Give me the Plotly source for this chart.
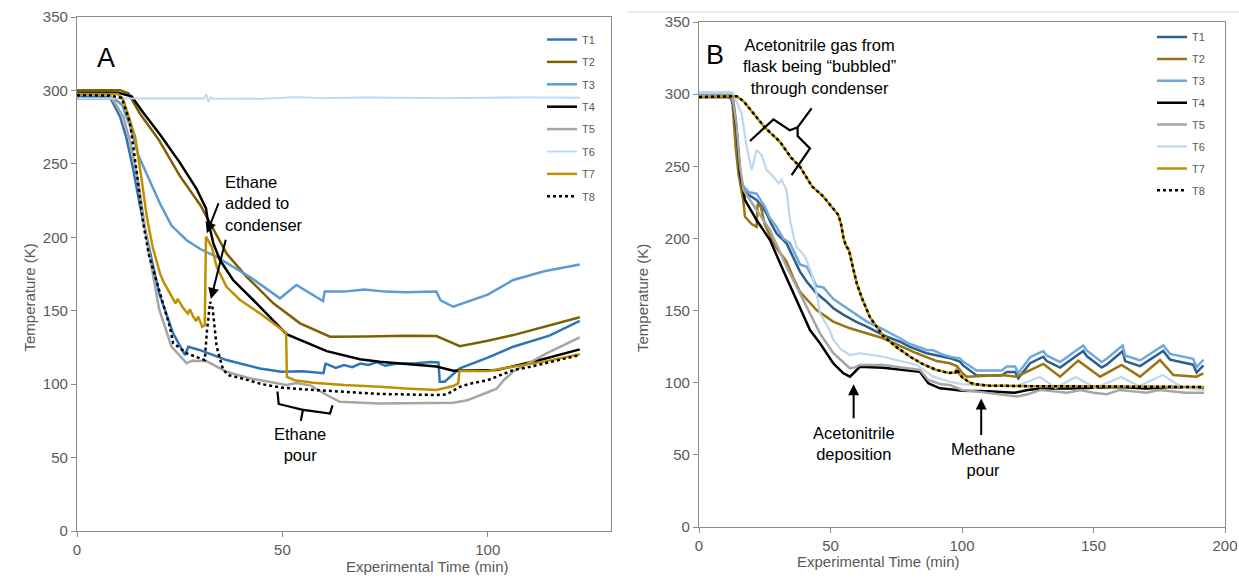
import plotly.graph_objects as go

# ---------------- Panel A data (time in min, temperature in K) ----------------
A_T1_x = [0, 8, 10.5, 12, 13.7, 15.3, 17.5, 20, 23.4, 26.3, 27.1, 29.8, 36.4, 44.5, 49.8, 55, 60, 60.5, 61, 63, 65, 67, 69, 71, 73, 75, 78, 82, 86, 88, 88.3, 89.5, 93.2, 100, 106.2, 115, 122.4]
A_T1_y = [296, 295.5, 282, 268, 246, 222, 193.5, 162, 134.6, 119.8, 125.5, 123.3, 116.4, 110.7, 108.4, 108.7, 107.5, 113.9, 113.5, 111, 113, 111.5, 114, 113, 115, 112.5, 114, 114, 115, 114.8, 101.6, 101.6, 110.7, 118, 125.5, 133, 143]

A_T2_x = [0, 10.5, 12.5, 15.3, 20, 25, 30, 32, 35, 36.4, 41.3, 47.8, 54.3, 61.6, 70, 80, 87.5, 93.2, 100, 106.2, 122.4]
A_T2_y = [300.2, 300.2, 298, 284.3, 266, 242, 222, 212, 196, 189, 173.1, 155, 141.4, 132.3, 132.5, 133, 132.7, 125.9, 129.5, 133.4, 145.5]

A_T3_x = [0, 9, 11, 13, 14.9, 17, 20.2, 23, 26.7, 30, 34, 42.1, 49.4, 53.4, 59.9, 60.3, 65, 70, 75, 80, 87.5, 88.5, 91.6, 100, 106.2, 114, 122.4]
A_T3_y = [294.5, 294.5, 290, 275, 256, 243, 223, 208, 198, 192, 186.7, 173, 158.4, 167.5, 156.6, 163, 163, 164.5, 163, 162.5, 163, 157, 152.7, 161, 170.9, 177, 181.5]

A_T4_x = [0, 10, 13.3, 16.1, 20.2, 25, 29.1, 31.4, 31.7, 33.2, 34.8, 38, 42.9, 51, 60.8, 68.9, 73.7, 80, 87.5, 91.6, 102.2, 112.7, 122.4]
A_T4_y = [298.4, 298.4, 296, 285, 270, 251, 233, 219.7, 214, 195.8, 184.5, 170.9, 157.3, 134, 122.5, 117, 115.3, 114, 112, 109.1, 109.6, 116.4, 123.7]

A_T5_x = [0, 8, 11.3, 13, 15, 17, 20, 23, 26.7, 28, 31.5, 36.4, 42, 49.4, 51, 53.4, 57, 60.8, 64, 73.7, 91.6, 95, 98, 100, 102.2, 104, 106.2, 114.3, 122.4]
A_T5_y = [297.5, 297, 282, 264, 236, 198, 151, 125.5, 114.2, 116, 115.7, 108.4, 104, 100, 99.5, 100.8, 99, 92.6, 88, 86.8, 87.3, 89, 92.6, 94.5, 97, 103, 108.6, 121, 131.8]

A_T6_x = [0, 20, 31, 31.5, 32, 32.5, 33, 45, 53, 60, 70, 90, 110, 122.4]
A_T6_y = [294.5, 294.6, 294.5, 297.5, 292, 295.5, 294.5, 294.3, 295.5, 294.8, 295.2, 294.8, 295.3, 295]

A_T7_x = [0, 10, 11.3, 14.2, 15.8, 17, 18.4, 20.2, 21, 22.6, 24, 24.5, 25.9, 27, 27.5, 28.3, 29, 29.5, 30.5, 31.1, 31.4, 32.8, 34, 36.4, 39.7, 44.5, 49.8, 50.9, 51.1, 53, 57.5, 65, 73.7, 80, 87.5, 91.6, 92.8, 93.1, 100, 106.2, 114, 122.4]
A_T7_y = [297.5, 297.5, 293.4, 268, 238, 214, 193.5, 175.4, 170, 161.8, 155, 158, 151.6, 148, 151, 145.9, 143, 146, 139, 140.2, 200.4, 193.5, 179.9, 166.3, 157.3, 148.2, 136.8, 135, 105, 102.7, 101, 99.5, 98.3, 97, 96, 98.7, 100.5, 108.9, 109, 111.9, 115.5, 120.3]

A_T8_x = [0, 8, 10.9, 12.9, 14.5, 16.1, 17.5, 20.2, 22.6, 23.4, 26.7, 31.1, 31.6, 32.4, 33, 34, 35.6, 37, 40, 45, 50, 55, 60, 73.7, 87.5, 90, 93.2, 96, 100, 106.2, 110, 122.4]
A_T8_y = [296.8, 296.5, 295, 278, 245, 210, 188, 161.8, 139, 128, 121, 116.4, 135, 156, 152, 125.5, 109.6, 106, 104, 100, 97.6, 96.5, 95.6, 93.3, 92.6, 93, 98.2, 100.5, 102.7, 109.6, 111.6, 119.8]

# ---------------- Panel B data ----------------
B_T1_x = [0, 12, 13, 14, 15, 16, 17, 19, 21.9, 24, 25.7, 27.5, 29.5, 33.3, 35, 38.4, 41, 44.7, 48, 51.1, 55, 60, 63.8, 70, 76.4, 80, 86.6, 90, 95.4, 99.2, 100.4, 105.6, 115.1, 117, 120.2, 121.4, 125.9, 130.9, 132.2, 137.3, 146.1, 147.4, 153.1, 155, 161.1, 162, 167.7, 176.5, 179.1, 187.9, 189.2, 191.8]
B_T1_y = [299, 299, 295, 280, 255, 238, 233, 230, 226.6, 222, 217.3, 210, 203.5, 196.6, 190, 177, 170, 162, 157, 151.6, 147, 142, 138.9, 133, 128.4, 125, 120.4, 119, 117, 114.6, 112, 105, 105, 107.5, 107.5, 103, 113.5, 118, 115, 110.5, 122, 118.5, 110.5, 112.5, 122, 115, 111.5, 122, 116, 112.5, 107, 112]

B_T2_x = [0, 11, 12.6, 13, 14, 15, 16.8, 17.5, 20, 21.9, 22.3, 23.5, 25, 28, 30, 33.2, 36, 38.4, 44.7, 51, 57.4, 70, 82.8, 90.4, 95.4, 98, 100, 101.8, 115.1, 120.8, 130.9, 137.3, 144.2, 152.5, 160.7, 167.7, 175.3, 180.4, 189.2, 191.8]
B_T2_y = [298, 298, 297, 285, 262, 245, 226.6, 215, 210, 208, 224, 222, 210, 198, 192, 184.2, 172, 163, 150.4, 142.4, 137.7, 130.8, 120.4, 115, 113.5, 111.5, 107, 104.2, 105.3, 104.2, 113, 104.2, 115.3, 104.2, 112.3, 104.2, 115.7, 105.3, 104.2, 106.5]

B_T3_x = [0, 12, 13, 14, 15, 16, 17, 19, 21.9, 23, 25, 27, 29.5, 32, 34.6, 38.4, 41, 44.7, 47.3, 51.1, 55, 60, 63.8, 70, 76.4, 80, 86.6, 89.1, 92, 95.4, 99.2, 100.4, 105.6, 115.1, 117, 120.2, 121.4, 125.9, 130.9, 132.2, 137.3, 146.1, 147.4, 153.1, 155, 161.1, 162, 167.7, 176.5, 179.1, 187.9, 189.2, 191.8]
B_T3_y = [301, 301, 297, 282, 258, 240, 236, 232, 231, 228, 222, 214, 208, 200, 196.6, 182, 180.4, 167, 166, 158, 153, 147, 142.4, 137, 130.8, 127, 122.7, 122.5, 120, 118, 116.9, 114.6, 108.5, 108.5, 111.3, 111.3, 106.6, 117.7, 121.9, 118.9, 114.3, 125.8, 122.4, 114.3, 116.6, 125.8, 118.9, 115.4, 125.8, 120, 116.6, 110.8, 115.9]

B_T4_x = [0, 12, 13, 14.3, 15.6, 17.5, 21.9, 27, 32, 37.1, 42.2, 46, 51.1, 54.9, 57.4, 59.3, 61.2, 70, 84, 87.2, 91.6, 95.4, 100, 110, 120, 125, 130, 140, 150, 160, 170, 180, 192]
B_T4_y = [298, 298, 293, 275, 245, 226.6, 212.7, 198.9, 178, 157, 136.5, 127.3, 113.4, 106.5, 104.2, 107.6, 111.1, 110.4, 107.6, 99.6, 96.1, 95.4, 94.5, 94, 93, 95, 96, 96, 96.5, 97, 96, 97, 96]

B_T5_x = [0, 12, 13, 14.3, 15.6, 16.9, 21.9, 27, 33.3, 39.7, 44.7, 46, 51.1, 57.4, 59.3, 61.2, 70, 84, 87.2, 91.6, 95.4, 100, 105, 110, 115, 121, 125, 130, 135, 140, 145, 150, 155, 160, 165, 170, 175, 180, 185, 192]
B_T5_y = [299, 299, 294, 278, 250, 233.5, 219.7, 205.8, 180.4, 157.3, 138.9, 134.2, 120.4, 110, 110.6, 112.3, 112.3, 108.8, 101.9, 99.1, 98.4, 95, 94, 93, 92, 90.5, 92, 95, 94, 93, 95, 93, 92, 95, 94, 93, 95, 94, 93, 93]

B_T6_x = [0, 13, 14, 16.2, 18.1, 20, 21.9, 23.8, 25.7, 28.3, 30.2, 31.4, 33.3, 34.6, 36.2, 37.1, 40.3, 42.8, 44.7, 46, 47.3, 49.8, 51.1, 54, 57.4, 61.2, 70, 82.8, 89.1, 95.4, 100, 110, 120.6, 129.6, 135.6, 143.2, 150.7, 160.5, 167.3, 176.3, 183.9, 192.2]
B_T6_y = [301, 301, 296, 286.7, 263.6, 247.4, 261.3, 257.8, 247.4, 242.8, 238.2, 240.5, 233.6, 212.8, 199.7, 194.3, 187.4, 175.9, 162, 148, 144, 136, 129.6, 123, 119.2, 120.4, 118, 112.3, 104.2, 100.7, 99, 98, 97.6, 104, 96.4, 104, 96.4, 104, 97.6, 105.4, 96.4, 95]

B_T78_x = [0, 14.3, 17, 21.9, 25, 30.8, 35, 38.4, 43, 47.3, 50, 53, 54, 55, 56, 57, 58, 60, 62, 65, 70, 75, 80, 85, 90, 95, 97.5, 98, 99, 100, 103, 105, 110, 120, 130, 140, 150, 160, 170, 180, 192]
B_T78_y = [298, 298.6, 295, 284.4, 277, 267, 256, 249.7, 236, 229, 223, 216.2, 210, 199.7, 194.5, 192, 184, 168.7, 158.4, 145.4, 132.5, 124.8, 118.3, 113, 109, 106.7, 107, 109.5, 106, 104, 100, 99, 98, 97.5, 97.5, 97.5, 97.5, 97.5, 97.5, 97.5, 97]

SERIES = ["T1", "T2", "T3", "T4", "T5", "T6", "T7", "T8"]

A_data = [(A_T1_x, A_T1_y), (A_T2_x, A_T2_y), (A_T3_x, A_T3_y), (A_T4_x, A_T4_y),
          (A_T5_x, A_T5_y), (A_T6_x, A_T6_y), (A_T7_x, A_T7_y), (A_T8_x, A_T8_y)]
B_data = [(B_T1_x, B_T1_y), (B_T2_x, B_T2_y), (B_T3_x, B_T3_y), (B_T4_x, B_T4_y),
          (B_T5_x, B_T5_y), (B_T6_x, B_T6_y), (B_T78_x, B_T78_y), (B_T78_x, B_T78_y)]

# styles
A_colors = ["#2e75b6", "#7f6000", "#5b9bd5", "#000000", "#a5a5a5", "#bdd7ee", "#bf9000", "#000000"]
B_colors = ["#2c5f8e", "#9a7412", "#6fa8dc", "#000000", "#a5a5a5", "#bdd7ee", "#c09000", "#000000"]
A_widths = [2.5, 2.5, 2.5, 2.5, 2.5, 1.8, 2.5, 2.5]
B_widths = [2.5, 2.5, 2.5, 2.5, 2.5, 2.2, 2.5, 2.5]
dashes = ["solid"] * 7 + ["dot"]

FONT = "Liberation Sans, Arial, sans-serif"
GRAY = "#595959"

fig = go.Figure()

for i, name in enumerate(SERIES):
    x, y = A_data[i]
    fig.add_trace(go.Scatter(x=x, y=y, mode="lines", name=name,
                             line=dict(color=A_colors[i], width=A_widths[i], dash=dashes[i]),
                             xaxis="x", yaxis="y", legend="legend", legendgroup="a" + name))
for i, name in enumerate(SERIES):
    x, y = B_data[i]
    fig.add_trace(go.Scatter(x=x, y=y, mode="lines", name=name,
                             line=dict(color=B_colors[i], width=B_widths[i], dash=dashes[i]),
                             xaxis="x2", yaxis="y2", legend="legend2", legendgroup="b" + name))

W, H = 1239, 585
def px(xp): return xp / W
def py(yp): return 1 - yp / H

axis_common = dict(showgrid=False, zeroline=False, showline=True, linecolor="#8c8c8c", linewidth=1.2,
                   mirror=True, ticks="outside", ticklen=5, tickcolor="#8c8c8c", automargin=False,
                   tickfont=dict(family=FONT, size=15, color=GRAY))

fig.update_layout(
    width=W, height=H, margin=dict(l=0, r=0, t=0, b=0, pad=0, autoexpand=False),
    paper_bgcolor="white", plot_bgcolor="white",
    font=dict(family=FONT, color=GRAY),
    xaxis=dict(domain=[px(77), px(611)], range=[0, 130], tickvals=[0, 50, 100], anchor="y", **axis_common),
    yaxis=dict(domain=[py(531), py(17)], range=[0, 350], dtick=50, anchor="x", **axis_common),
    xaxis2=dict(domain=[px(699), px(1225)], range=[0, 200], dtick=50, anchor="y2", **axis_common),
    yaxis2=dict(domain=[py(527), py(22)], range=[0, 350], dtick=50, anchor="x2", **axis_common),
    legend=dict(x=px(542), y=py(25), xanchor="left", yanchor="top", bgcolor="rgba(0,0,0,0)",
                font=dict(family=FONT, size=11, color=GRAY), tracegroupgap=3.4),
    legend2=dict(x=px(1152), y=py(22.5), xanchor="left", yanchor="top", bgcolor="rgba(0,0,0,0)",
                 font=dict(family=FONT, size=11, color=GRAY), tracegroupgap=2.9),
    showlegend=True,
)

annos = []
# axis titles
annos.append(dict(text="Temperature (K)", x=px(18), y=py(298), xref="paper", yref="paper",
                  textangle=-90, showarrow=False, font=dict(family=FONT, size=15, color=GRAY)))
annos.append(dict(text="Temperature (K)", x=px(642), y=py(298), xref="paper", yref="paper",
                  textangle=-90, showarrow=False, font=dict(family=FONT, size=15, color=GRAY)))
annos.append(dict(text="Experimental Time (min)", x=px(344), y=py(577), xref="paper", yref="paper",
                  showarrow=False, font=dict(family=FONT, size=15, color=GRAY)))
annos.append(dict(text="Experimental Time (min)", x=px(962), y=py(572), xref="paper", yref="paper",
                  showarrow=False, font=dict(family=FONT, size=15, color=GRAY)))
# panel letters
annos.append(dict(text="A", x=px(95), y=py(41), xref="paper", yref="paper", showarrow=False,
                  font=dict(family=FONT, size=27, color="black")))
annos.append(dict(text="B", x=px(715), y=py(38), xref="paper", yref="paper", showarrow=False,
                  font=dict(family=FONT, size=27, color="black")))

TXT = dict(family=FONT, size=16.5, color="black")
# Panel A text annotations
annos.append(dict(text="Ethane<br>added to<br>condenser", x=35.6, y=223, xref="x", yref="y",
                  xanchor="left", yanchor="middle", align="left", showarrow=False, font=TXT))
annos.append(dict(text="Ethane<br>pour", x=54.3, y=59, xref="x", yref="y",
                  xanchor="center", yanchor="middle", showarrow=False, font=TXT))
# Panel B text annotations
annos.append(dict(text="Acetonitrile gas from<br>flask being \u201cbubbled\u201d<br>through condenser",
                  x=46, y=319, xref="x2", yref="y2", xanchor="center", yanchor="middle",
                  showarrow=False, font=TXT))
annos.append(dict(text="Acetonitrile<br>deposition", x=58.8, y=57.6, xref="x2", yref="y2",
                  xanchor="center", yanchor="middle", showarrow=False, font=TXT))
annos.append(dict(text="Methane<br>pour", x=107.8, y=46.6, xref="x2", yref="y2",
                  xanchor="center", yanchor="middle", showarrow=False, font=TXT))

# arrows: (tail_x, tail_y, tip_x, tip_y, axis suffix)
ARROWS = [(34.6, 224.2, 31.6, 202.7, ""), (36.3, 199.3, 32.6, 158.0, ""),
          (58.8, 74.4, 58.8, 98.9, "2"), (107.3, 62.8, 107.3, 89.1, "2")]
for tx, ty, hx, hy, s in ARROWS:
    annos.append(dict(x=hx, y=hy, ax=tx, ay=ty, xref="x" + s, yref="y" + s, axref="x" + s, ayref="y" + s,
                      text="", showarrow=True, arrowhead=2, arrowsize=1.1, arrowwidth=2, arrowcolor="black"))

fig.update_layout(annotations=annos)

# brackets (annotation graphics)
BRACE_A = [(48.8, 95), (49.1, 86.5), (55.0, 82.5), (54.5, 75), (55.0, 82.5), (61.6, 80), (62.2, 85.5)]
BRACE_B = [(19.4, 267.5), (28.3, 282.5), (34.5, 275), (37.5, 277), (42.8, 290.2), (37.5, 277),
           (37.5, 271), (42.2, 262.4), (35.2, 243.9)]

def path_of(pts):
    return "M " + " L ".join(f"{a},{b}" for a, b in pts)

shapes = [
    dict(type="path", path=path_of(BRACE_A), xref="x", yref="y", line=dict(color="black", width=2.2)),
    dict(type="path", path=path_of(BRACE_B), xref="x2", yref="y2", line=dict(color="black", width=2.2)),
    dict(type="line", x0=px(627), x1=1, y0=py(12), y1=py(12), xref="paper", yref="paper",
         line=dict(color="#d9d9d9", width=1)),
]
fig.update_layout(shapes=shapes)

fig.write_html("out.html")
